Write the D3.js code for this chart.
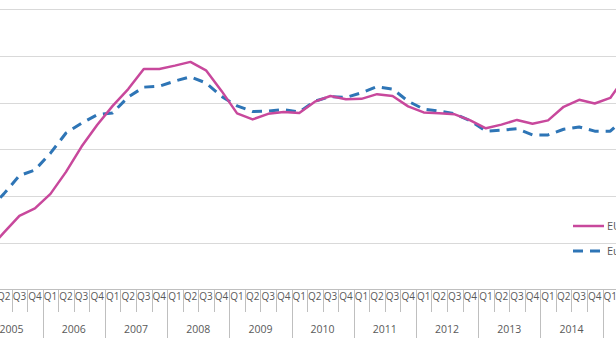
<!DOCTYPE html>
<html>
<head>
<meta charset="utf-8">
<script src="https://cdn.jsdelivr.net/npm/d3@7"></script>
<style>
  html, body { margin: 0; padding: 0; background: #fff; overflow: hidden; }
  svg { display: block; }
  text { font-family: "Open Sans", "Liberation Sans", sans-serif; fill: #595959; }
</style>
</head>
<body>
<svg id="chart" width="616" height="346"></svg>
<script>
// House price index, 2010 = 100, quarterly
const years = [2005, 2006, 2007, 2008, 2009, 2010, 2011, 2012, 2013, 2014, 2015];
const quarterLabels = ["Q1", "Q2", "Q3", "Q4"];
const lastQuarterCount = 2; // 2015 runs to Q2

const seriesNames = ["EU28", "Euro area (EA19)"];

const euValues = [
  68.5, 72.2, 75.8, 77.4,
  80.5, 85.2, 90.6, 95.2,
  99.3, 102.9, 107.2, 107.2,
  107.9, 108.7, 106.9, 102.5,
  97.7, 96.4, 97.6, 98.0,
  97.8, 100.2, 101.4, 100.7,
  100.8, 101.8, 101.4, 99.2,
  97.9, 97.7, 97.5, 96.2,
  94.5, 95.3, 96.3, 95.5,
  96.2, 99.1, 100.6, 99.8,
  101.0, 105.7
];

const euroAreaValues = [
  77.1, 80.5, 84.4, 85.6,
  89.2, 93.5, 95.6, 97.4,
  97.8, 101.2, 103.3, 103.5,
  104.6, 105.5, 104.2, 101.3,
  99.3, 98.1, 98.2, 98.5,
  98.0, 100.3, 101.3, 101.1,
  102.1, 103.4, 102.9, 100.3,
  98.6, 98.2, 97.6, 96.1,
  93.9, 94.1, 94.4, 93.1,
  93.1, 94.3, 94.8, 93.9,
  93.9, 96.9
];

const yTicks = [60, 70, 80, 90, 100, 110, 120];

// Quarter keys, e.g. "2005-Q1"
const periods = [];
years.forEach((yr, i) => {
  const n = i === years.length - 1 ? lastQuarterCount : 4;
  for (let q = 0; q < n; q++) periods.push({ year: yr, q: quarterLabels[q], key: yr + "-" + quarterLabels[q] });
});

const svg = d3.select("#chart");

// Plot area spans wider than the view; the left value axis sits off to the left.
const plotLeft = -19.5, quarterWidth = 15.55;
const x = d3.scaleBand()
  .domain(periods.map(p => p.key))
  .range([plotLeft, plotLeft + quarterWidth * periods.length])
  .paddingInner(0).paddingOuter(0);

const y = d3.scaleLinear().domain([60, 120]).range([289.8, 9]);

// Horizontal gridlines
svg.append("g")
  .selectAll("line")
  .data(yTicks.slice(1))
  .join("line")
  .attr("x1", 0).attr("x2", 616)
  .attr("y1", d => Math.round(y(d)) + 0.5).attr("y2", d => Math.round(y(d)) + 0.5)
  .attr("stroke", "#d9d9d9").attr("stroke-width", 1);

// Category axis baseline
const baseY = Math.round(y(60)) - 0.5;
svg.append("line")
  .attr("x1", 0).attr("x2", 616)
  .attr("y1", baseY).attr("y2", baseY)
  .attr("stroke", "#bfbfbf").attr("stroke-width", 1);

// Tick separators: short between quarters, long between years
const axisG = svg.append("g");
periods.forEach((p, i) => {
  const bx = Math.round(x(p.key)) + 0.5;
  const yearStart = p.q === "Q1";
  axisG.append("line")
    .attr("x1", bx).attr("x2", bx)
    .attr("y1", baseY).attr("y2", yearStart ? 338 : 312)
    .attr("stroke", "#bfbfbf").attr("stroke-width", 1);
});

// Quarter labels
axisG.selectAll("text.q")
  .data(periods)
  .join("text")
  .attr("class", "q")
  .attr("x", d => x(d.key) + x.bandwidth() / 2)
  .attr("y", 300)
  .attr("text-anchor", "middle")
  .attr("font-size", "10px")
  .text(d => d.q);

// Year labels
axisG.selectAll("text.yr")
  .data(years)
  .join("text")
  .attr("class", "yr")
  .attr("x", yr => {
    const ps = periods.filter(p => p.year === yr);
    const start = x(ps[0].key);
    const end = x(ps[ps.length - 1].key) + x.bandwidth();
    return yr === 2015 ? start + 2 * x.bandwidth() : (start + end) / 2;
  })
  .attr("y", 333)
  .attr("text-anchor", "middle")
  .attr("font-size", "10.5px")
  .text(yr => yr);

// Lines
const line = d3.line()
  .x((d, i) => x(periods[i].key) + x.bandwidth() / 2)
  .y(d => y(d));

svg.append("path")
  .datum(euroAreaValues)
  .attr("d", line)
  .attr("fill", "none")
  .attr("stroke", "#2e75b6")
  .attr("stroke-width", 3)
  .attr("stroke-dasharray", "10,7")
  .attr("stroke-linejoin", "round");

svg.append("path")
  .datum(euValues)
  .attr("d", line)
  .attr("fill", "none")
  .attr("stroke", "#c8489c")
  .attr("stroke-width", 2.5)
  .attr("stroke-linejoin", "round");

// Legend
const legend = svg.append("g");
const legendItems = [
  { name: seriesNames[0], color: "#c8489c", dash: null, w: 2.5, y: 226 },
  { name: seriesNames[1], color: "#2e75b6", dash: "10,7", w: 3, y: 251 }
];
legendItems.forEach(it => {
  legend.append("line")
    .attr("x1", 573).attr("x2", 604)
    .attr("y1", it.y).attr("y2", it.y)
    .attr("stroke", it.color).attr("stroke-width", it.w)
    .attr("stroke-dasharray", it.dash);
  legend.append("text")
    .attr("x", 607).attr("y", it.y + 4)
    .attr("font-size", "11px")
    .text(it.name);
});
</script>
</body>
</html>
